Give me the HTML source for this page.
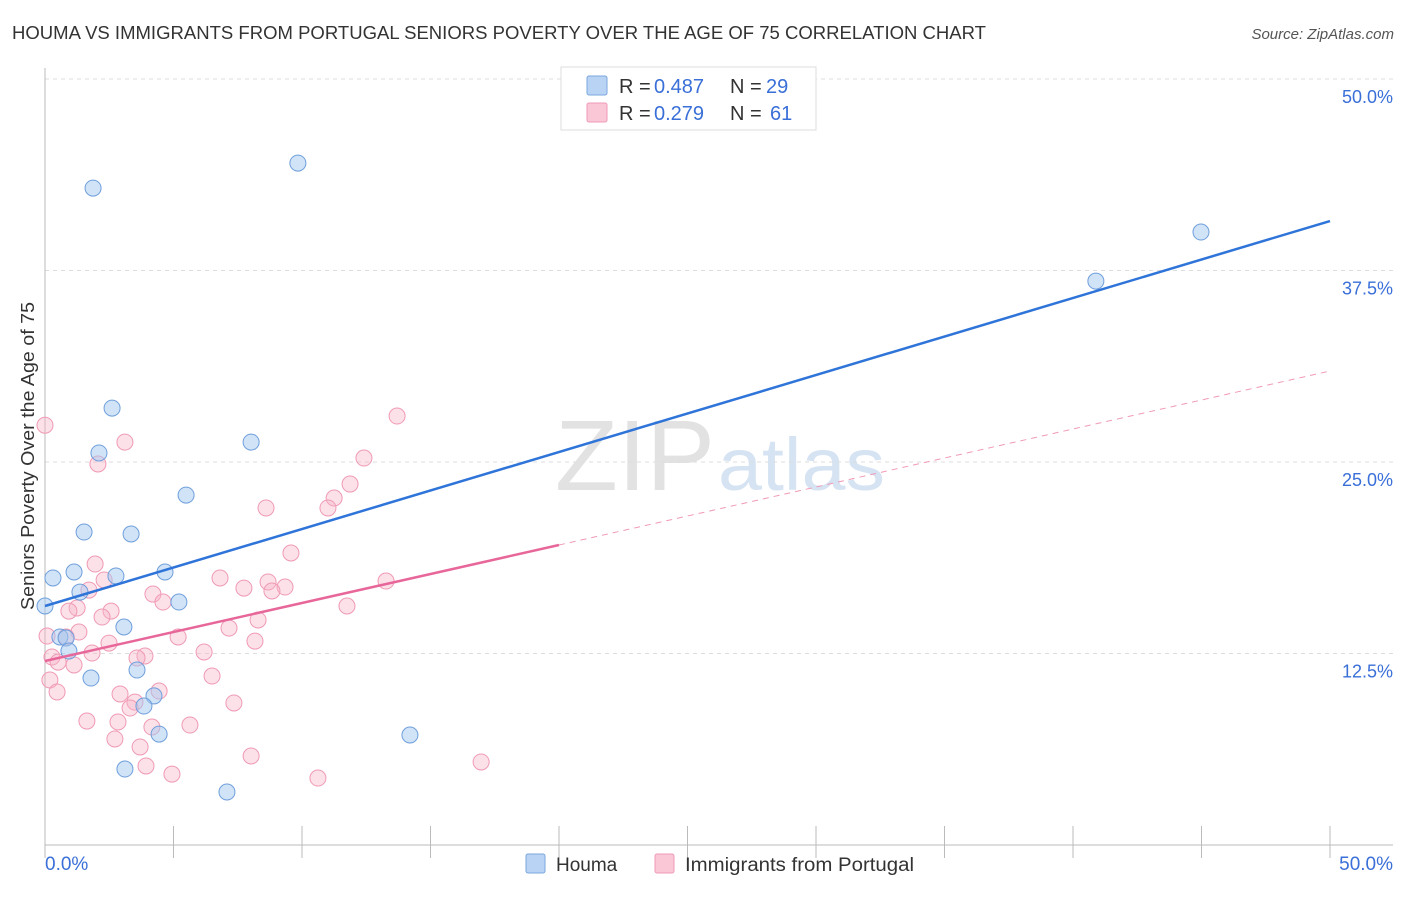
<!DOCTYPE html>
<html><head><meta charset="utf-8"><style>
body{margin:0;background:#fff;font-family:"Liberation Sans",sans-serif;}
svg text{font-family:"Liberation Sans",sans-serif;}
</style></head><body>
<svg id="chart" width="1406" height="892" viewBox="0 0 1406 892">
<text x="12" y="39" font-size="18" fill="#333" textLength="974" lengthAdjust="spacingAndGlyphs">HOUMA VS IMMIGRANTS FROM PORTUGAL SENIORS POVERTY OVER THE AGE OF 75 CORRELATION CHART</text>
<text x="1394" y="39" font-size="15" fill="#555" text-anchor="end" font-style="italic">Source: ZipAtlas.com</text>
<text x="555" y="490" font-size="100" fill="#e2e2e2" textLength="160" lengthAdjust="spacingAndGlyphs" font-family="Liberation Serif">ZIP</text>
<text x="718" y="490" font-size="74" fill="#d6e3f3" textLength="167" lengthAdjust="spacingAndGlyphs">atlas</text>
<g id="grid"></g>
<g id="axes"></g>
<g id="marks"></g>
<g>
<rect x="561" y="67" width="255" height="63" fill="#fff" stroke="#ddd"/>
<rect x="587" y="76" width="20" height="19" fill="#b9d3f4" stroke="#7aa7e0" rx="2"/>
<rect x="587" y="103" width="20" height="19" fill="#f9c7d6" stroke="#f09ab5" rx="2"/>
<text x="619" y="93" font-size="20" fill="#333">R =</text>
<text x="654" y="93" font-size="20" fill="#3a6fd8">0.487</text>
<text x="730" y="93" font-size="20" fill="#333">N =</text>
<text x="766" y="93" font-size="20" fill="#3a6fd8">29</text>
<text x="619" y="120" font-size="20" fill="#333">R =</text>
<text x="654" y="120" font-size="20" fill="#3a6fd8">0.279</text>
<text x="730" y="120" font-size="20" fill="#333">N =</text>
<text x="770" y="120" font-size="20" fill="#3a6fd8">61</text>
</g>
<g>
<rect x="526" y="854" width="19" height="19" fill="#b9d3f4" stroke="#7aa7e0" rx="2"/>
<text x="556" y="871" font-size="19" fill="#333">Houma</text>
<rect x="655" y="854" width="19" height="19" fill="#f9c7d6" stroke="#f09ab5" rx="2"/>
<text x="685" y="871" font-size="19" fill="#333" textLength="229" lengthAdjust="spacingAndGlyphs">Immigrants from Portugal</text>
</g>
<text x="34" y="456" font-size="18" fill="#333" text-anchor="middle" textLength="308" lengthAdjust="spacingAndGlyphs" transform="rotate(-90 34 456)">Seniors Poverty Over the Age of 75</text>
</svg>
<script>
const yTicks=[12.5,25,37.5,50];
const yTickLabels=["12.5%","25.0%","37.5%","50.0%"];
const xTickLabels=["0.0%","50.0%"];
const houmaX=[0,0.31,1.87,9.84,2.61,2.10,1.52,1.13,1.36,2.76,3.35,4.67,5.49,8.02,5.21,3.07,0.58,0.82,0.93,1.79,3.58,4.24,3.85,4.44,3.11,7.08,14.20,40.89,44.98];
const houmaY=[15.6,17.43,42.88,44.51,28.52,25.59,20.43,17.82,16.51,17.56,20.30,17.82,22.84,26.30,15.86,14.23,13.58,13.51,12.66,10.90,11.42,9.73,9.07,7.24,4.96,3.46,7.18,36.81,40.01];
const portX=[3.11,2.06,13.70,12.41,11.87,11.25,11.01,8.60,9.57,1.95,6.81,8.68,9.34,7.74,8.83,13.27,2.30,1.71,4.20,4.59,1.25,0.93,2.57,2.22,11.75,8.29,7.16,1.32,0.82,5.18,2.49,8.17,0.27,0.51,1.83,3.89,3.58,6.19,1.13,6.50,0.19,0.47,2.92,4.44,3.50,7.35,3.31,1.63,2.84,5.64,4.16,2.72,3.70,8.02,3.93,4.94,10.62,16.97,0.08,0.0];
const portY=[26.30,24.87,28.00,25.26,23.56,22.65,22.00,22.00,19.06,18.34,17.43,17.17,16.84,16.77,16.58,17.23,17.30,16.64,16.38,15.86,15.47,15.27,15.27,14.88,15.60,14.69,14.16,13.90,13.58,13.58,13.18,13.31,12.27,11.94,12.53,12.34,12.21,12.60,11.75,11.03,10.77,9.99,9.86,10.05,9.33,9.27,8.94,8.09,8.03,7.83,7.70,6.92,6.40,5.81,5.16,4.63,4.37,5.42,13.64,27.4];
const houmaTrend=[15.6,40.73];
const portTrend=[12.01,30.94];
const portSolidEnd=20;

const X0=45,X1=1330,Y0=845,Y50=79;
const sx=v=>X0+(X1-X0)*v/50;
const sy=v=>Y0-(Y0-Y50)*v/50;
const NS="http://www.w3.org/2000/svg";
function mk(tag,attrs,parent){const e=document.createElementNS(NS,tag);for(const k in attrs)e.setAttribute(k,attrs[k]);parent.appendChild(e);return e;}
const grid=document.getElementById('grid'),axes=document.getElementById('axes'),marks=document.getElementById('marks');
yTicks.forEach((t,i)=>{
 const l=mk('line',{x1:X0,x2:1393,y1:sy(t),y2:sy(t),stroke:'#ddd','stroke-dasharray':'4 4'},grid);
 
 
 const tx=mk('text',{x:1393,y:sy(t)+24,'font-size':18,fill:'#3a6fd8','text-anchor':'end'},axes);
 tx.textContent=yTickLabels[i];
 
 
});
const ax=mk('line',{x1:X0,x2:X0,y1:68,y2:Y0,stroke:'#bbb'},axes);


const bx=mk('line',{x1:X0,x2:1393,y1:Y0,y2:Y0,stroke:'#bbb'},axes);


for(let i=0;i<=10;i++){
 const t=mk('line',{x1:sx(i*5),x2:sx(i*5),y1:826,y2:858,stroke:'#bbb'},axes);
 
 
}
[[0,'start',45],[50,'end',1393]].forEach((d,i)=>{
 const tx=mk('text',{x:d[2],y:870,'font-size':19,fill:'#3a6fd8','text-anchor':d[1]},axes);
 tx.textContent=xTickLabels[i];
 
 
});
portX.forEach((x,i)=>{
 const c=mk('circle',{cx:sx(x),cy:sy(portY[i]),r:8,fill:'rgba(248,180,200,0.4)',stroke:'#f09ab5','stroke-width':1},marks);
 
 
});
houmaX.forEach((x,i)=>{
 const c=mk('circle',{cx:sx(x),cy:sy(houmaY[i]),r:8,fill:'rgba(164,199,240,0.5)',stroke:'#6f9fdc','stroke-width':1},marks);
 
 
});
const pAt=v=>portTrend[0]+(portTrend[1]-portTrend[0])*v/50;
const pd=mk('line',{x1:sx(portSolidEnd),y1:sy(pAt(portSolidEnd)),x2:sx(50),y2:sy(portTrend[1]),stroke:'#f09ab5','stroke-width':1,'stroke-dasharray':'6 5'},marks);


const ps=mk('line',{x1:sx(0),y1:sy(portTrend[0]),x2:sx(portSolidEnd),y2:sy(pAt(portSolidEnd)),stroke:'#e8679a','stroke-width':2.5},marks);


const hl=mk('line',{x1:sx(0),y1:sy(houmaTrend[0]),x2:sx(50),y2:sy(houmaTrend[1]),stroke:'#2f74d8','stroke-width':2.5},marks);


</script>
</body></html>
